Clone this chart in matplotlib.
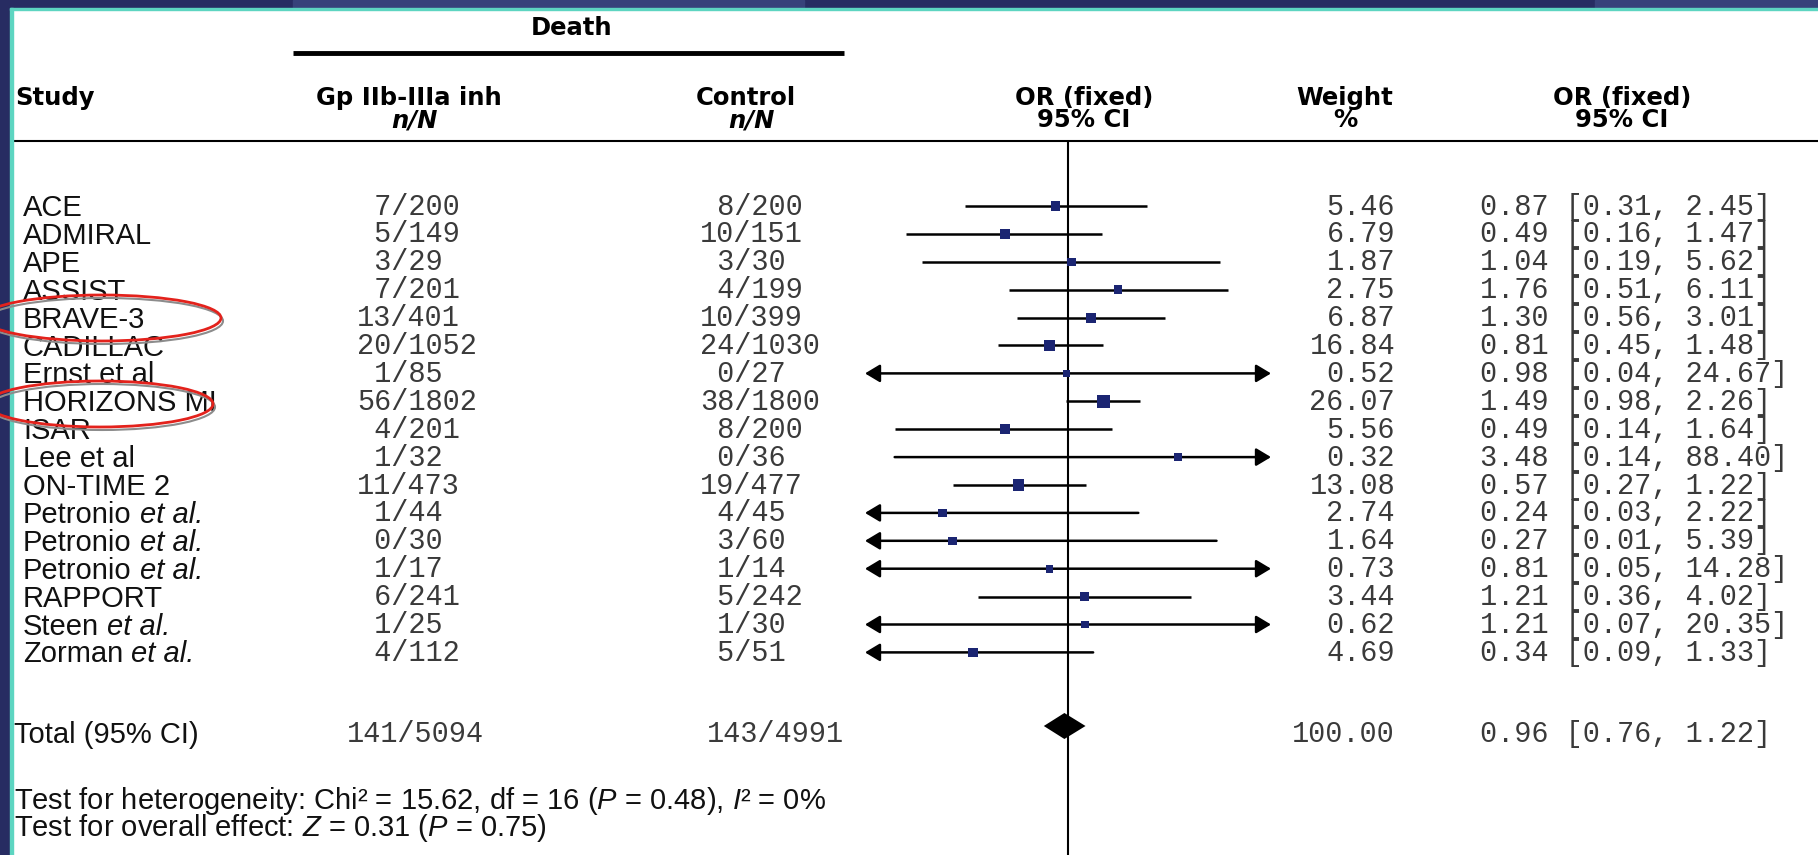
import numpy as np
import matplotlib
matplotlib.use("Agg")
import matplotlib.pyplot as plt
from matplotlib.patches import Rectangle, Ellipse

plt.rcParams['mathtext.fontset'] = 'custom'
plt.rcParams['mathtext.rm'] = 'Liberation Sans'
plt.rcParams['mathtext.it'] = 'Liberation Sans:italic'

W, H = 1818, 855

studies = ['ACE', 'ADMIRAL', 'APE', 'ASSIST', 'BRAVE-3', 'CADILLAC', 'Ernst et al',
           'HORIZONS MI', 'ISAR', 'Lee et al', 'ON-TIME 2', 'Petronio', 'Petronio',
           'Petronio', 'RAPPORT', 'Steen', 'Zorman']
italic_etal = [False]*11 + [True, True, True, False, True, True]
gp_n = [7, 5, 3, 7, 13, 20, 1, 56, 4, 1, 11, 1, 0, 1, 6, 1, 4]
gp_N = [200, 149, 29, 201, 401, 1052, 85, 1802, 201, 32, 473, 44, 30, 17, 241, 25, 112]
ct_n = [8, 10, 3, 4, 10, 24, 0, 38, 8, 0, 19, 4, 3, 1, 5, 1, 5]
ct_N = [200, 151, 30, 199, 399, 1030, 27, 1800, 200, 36, 477, 45, 60, 14, 242, 30, 51]
weight = [5.46, 6.79, 1.87, 2.75, 6.87, 16.84, 0.52, 26.07, 5.56, 0.32, 13.08,
          2.74, 1.64, 0.73, 3.44, 0.62, 4.69]
odds = [0.87, 0.49, 1.04, 1.76, 1.30, 0.81, 0.98, 1.49, 0.49, 3.48, 0.57,
        0.24, 0.27, 0.81, 1.21, 1.21, 0.34]
ci_lo = [0.31, 0.16, 0.19, 0.51, 0.56, 0.45, 0.04, 0.98, 0.14, 0.14, 0.27,
         0.03, 0.01, 0.05, 0.36, 0.07, 0.09]
ci_hi = [2.45, 1.47, 5.62, 6.11, 3.01, 1.48, 24.67, 2.26, 1.64, 88.40, 1.22,
         2.22, 5.39, 14.28, 4.02, 20.35, 1.33]

total_gp = '141/5094'
total_ct = '143/4991'
total_w, total_or, total_lo, total_hi = 100.00, 0.96, 0.76, 1.22

test_lines = ("Test for heterogeneity: Chi\u00b2 = 15.62, df = 16 ($P$ = 0.48), $I$\u00b2 = 0%\n"
              "Test for overall effect: $Z$ = 0.31 ($P$ = 0.75)")

SANS = ['Liberation Sans', 'DejaVu Sans']
HEAD = ['DejaVu Sans']
MONO = ['Liberation Mono', 'DejaVu Sans Mono']
NAVY = '#272c62'
NAVY_L = '#37427a'
TEAL = '#5dd5c1'
SQ = '#1b2572'
GREY = '#3a3a3a'

row0, step = 206, 27.9
total_y = 733
diamond_y = 726
xlim = (0.1, 10)

fig = plt.figure(figsize=(W/100, H/100), dpi=100)
bg = fig.add_axes([0, 0, 1, 1])
bg.set_xlim(0, W)
bg.set_ylim(H, 0)
bg.axis('off')
renderer = fig.canvas.get_renderer()


def rich(x, y, parts, size, weight='normal'):
    a = bg.text(0, 0, 'x x', family=SANS, fontsize=size)
    b = bg.text(0, 0, 'xx', family=SANS, fontsize=size)
    sw = a.get_window_extent(renderer).width - b.get_window_extent(renderer).width
    a.remove()
    b.remove()
    cur = x
    for s, st in parts:
        lead = len(s) - len(s.lstrip(' '))
        trail = len(s) - len(s.rstrip(' '))
        cur += lead*sw
        t = bg.text(cur, y, s.strip(' '), family=SANS, fontsize=size, style=st,
                    weight=weight, va='baseline', ha='left', color='#111111')
        cur = t.get_window_extent(renderer).x1 + trail*sw


# slide frame
bg.add_patch(Rectangle((0, 0), 9.5, H, color=NAVY, zorder=5))
bg.add_patch(Rectangle((0, 0), W, 8, color=NAVY, zorder=5))
bg.add_patch(Rectangle((293, 0), 511, 8, color=NAVY_L, zorder=5))
bg.add_patch(Rectangle((1595, 0), W-1595, 8, color=NAVY_L, zorder=5))
bg.add_patch(Rectangle((9.5, 8), 3, H, color=TEAL, zorder=6))
bg.add_patch(Rectangle((9.5, 8), W, 2.5, color=TEAL, zorder=6))

# headers
hk = dict(family=HEAD, fontsize=17.5, weight='bold', va='baseline', ha='center')
bg.text(572, 35, 'Death', **hk)
bg.plot([293, 844], [53, 53], color='k', lw=3.5, solid_capstyle='butt')
bg.text(15, 105, 'Study', **{**hk, 'ha': 'left'})
bg.text(409, 105, 'Gp IIb-IIIa inh', **hk)
bg.text(414, 127, 'n/N', style='italic', **hk)
bg.text(746, 105, 'Control', **hk)
bg.text(751, 127, 'n/N', style='italic', **hk)
mh = dict(family=HEAD, fontsize=17.5, weight='bold', va='bottom', ha='center',
          multialignment='center', linespacing=0.9)
bg.text(1084, 132, 'OR (fixed)\n95% CI', **mh)
bg.text(1345, 132, 'Weight\n%', **mh)
bg.text(1622, 132, 'OR (fixed)\n95% CI', **mh)
bg.plot([12, W], [141, 141], color='k', lw=1.5)

mk = dict(family=MONO, fontsize=20.6, va='baseline', color=GREY)
for i, name in enumerate(studies):
    y = row0 + step*i
    if italic_etal[i]:
        rich(23, y + 10, [(name + ' ', 'normal'), ('et al.', 'italic')], 21)
    else:
        rich(23, y + 10, [(name, 'normal')], 21)
    bg.text(357, y + 8.5, f"{gp_n[i]:>2}/{gp_N[i]}", ha='left', **mk)
    bg.text(700, y + 8.5, f"{ct_n[i]:>2}/{ct_N[i]}", ha='left', **mk)
    bg.text(1395, y + 8.5, f"{weight[i]:.2f}", ha='right', **mk)
    bg.text(1480, y + 8.5, f"{odds[i]:.2f} [{ci_lo[i]:.2f}, {ci_hi[i]:.2f}]", ha='left', **mk)

rich(14, total_y + 10, [("Total (95% CI)", 'normal')], 21)
bg.text(347, total_y + 8.5, total_gp, ha='left', **mk)
bg.text(707, total_y + 8.5, total_ct, ha='left', **mk)
bg.text(1395, total_y + 8.5, f"{total_w:.2f}", ha='right', **mk)
bg.text(1480, total_y + 8.5, f"{total_or:.2f} [{total_lo:.2f}, {total_hi:.2f}]", ha='left', **mk)

bg.text(14, 836, test_lines, family=SANS, fontsize=21, va='baseline', ha='left',
        linespacing=0.8, color='#111111')

# highlight ellipses
for cx, cy, ew, eh in [(102, 318, 238, 46), (100, 404, 226, 46)]:
    bg.add_patch(Ellipse((cx + 2, cy + 3), ew, eh, fill=False, ec='#8c8c8c', lw=1.5,
                         zorder=9, clip_on=False))
    bg.add_patch(Ellipse((cx, cy), ew, eh, fill=False, ec='#e3221c', lw=2.0,
                         zorder=10, clip_on=False))

# forest plot
ax = fig.add_axes([865/W, 0, 406/W, (H - 141)/H])
ax.set_xscale('log')
ax.set_xlim(*xlim)
ax.set_ylim((H - row0)/step, (141 - row0)/step)
ax.axis('off')
ax.axvline(1, color='k', lw=1.5)

rows = np.arange(len(studies))
for r, lo, hi in zip(rows, ci_lo, ci_hi):
    x0, x1 = max(lo, xlim[0]), min(hi, xlim[1])
    if lo < xlim[0] and hi > xlim[1]:
        style = '<|-|>'
    elif lo < xlim[0]:
        style = '<|-'
    elif hi > xlim[1]:
        style = '-|>'
    else:
        style = None
    if style is None:
        ax.plot([x0, x1], [r, r], color='k', lw=1.8, solid_capstyle='butt')
    else:
        ax.annotate('', xy=(x1, r), xytext=(x0, r), annotation_clip=False,
                    arrowprops=dict(arrowstyle=style + ',head_length=0.45,head_width=0.27',
                                    color='k', lw=1.8, shrinkA=0, shrinkB=0,
                                    mutation_scale=20))

side = (6.5 + 1.3*np.sqrt(np.array(weight)))*0.72
ax.scatter(odds, rows, marker='s', s=side**2, color=SQ, zorder=4, linewidths=0)

ty = (diamond_y - row0)/step
hh = 13/step
ax.fill([total_lo, total_or, total_hi, total_or], [ty, ty - hh, ty, ty + hh],
        color='k', zorder=4, lw=0)

fig.savefig('out.png', dpi=100)
